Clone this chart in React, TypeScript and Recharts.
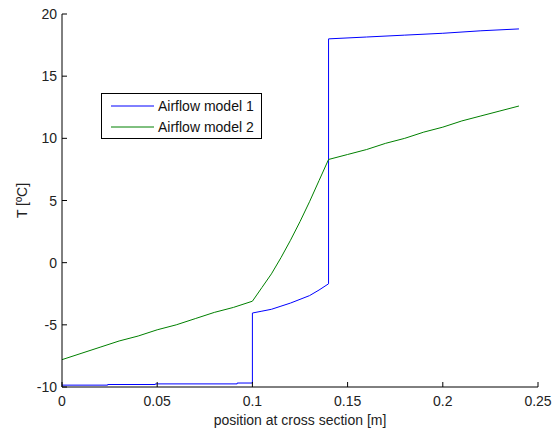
import React from "react";
import { LineChart, Line, XAxis, YAxis } from "recharts";

const model1X = [0, 0.024, 0.024, 0.049, 0.049, 0.092, 0.092, 0.1, 0.1, 0.105, 0.11, 0.115, 0.12, 0.125, 0.13, 0.135, 0.14, 0.14, 0.16, 0.18, 0.2, 0.22, 0.24];
const model1T = [-9.85, -9.85, -9.8, -9.8, -9.75, -9.75, -9.68, -9.68, -4.05, -3.9, -3.75, -3.5, -3.25, -2.95, -2.65, -2.2, -1.7, 18.0, 18.15, 18.3, 18.45, 18.65, 18.8];

const model2X = [0, 0.01, 0.02, 0.03, 0.04, 0.05, 0.06, 0.07, 0.08, 0.09, 0.1, 0.105, 0.11, 0.115, 0.12, 0.125, 0.13, 0.135, 0.14, 0.15, 0.16, 0.17, 0.18, 0.19, 0.2, 0.21, 0.22, 0.23, 0.24];
const model2T = [-7.8, -7.3, -6.8, -6.3, -5.9, -5.4, -5.0, -4.5, -4.0, -3.6, -3.1, -2.0, -0.9, 0.4, 1.8, 3.3, 4.9, 6.6, 8.3, 8.7, 9.1, 9.6, 10.0, 10.5, 10.9, 11.4, 11.8, 12.2, 12.6];

const xTicks = [0, 0.05, 0.1, 0.15, 0.2, 0.25];
const yTicks = [-10, -5, 0, 5, 10, 15, 20];
const xTickLabels = ["0", "0.05", "0.1", "0.15", "0.2", "0.25"];

const seriesNames = ["Airflow model 1", "Airflow model 2"];
const seriesColors = ["#0000ff", "#008000"];

const model1Data = model1X.map((x, i) => ({ x, y: model1T[i] }));
const model2Data = model2X.map((x, i) => ({ x, y: model2T[i] }));

const FONT = "'Liberation Sans', Arial, sans-serif";

const XBottomTick = (props: any) => {
  const { x, y, payload } = props;
  const idx = xTicks.indexOf(payload.value);
  const label = idx >= 0 ? xTickLabels[idx] : String(payload.value);
  return (
    <g>
      <line x1={x} y1={y} x2={x} y2={y - 5} stroke="#000" strokeWidth={1} />
      <text x={x} y={y + 19} textAnchor="middle" fontSize={14} fontFamily={FONT} fill="#222">
        {label}
      </text>
    </g>
  );
};

const XTopTick = (props: any) => {
  const { x, y } = props;
  return <line x1={x} y1={y} x2={x} y2={y + 5} stroke="#000" strokeWidth={1} />;
};

const YLeftTick = (props: any) => {
  const { x, y, payload } = props;
  return (
    <g>
      <line x1={x} y1={y} x2={x + 5} y2={y} stroke="#000" strokeWidth={1} />
      <text x={x - 5} y={y + 5} textAnchor="end" fontSize={14} fontFamily={FONT} fill="#222">
        {String(payload.value)}
      </text>
    </g>
  );
};

const YRightTick = (props: any) => {
  const { x, y } = props;
  return <line x1={x} y1={y} x2={x - 5} y2={y} stroke="#000" strokeWidth={1} />;
};

const LegendBox = () => (
  <div
    style={{
      position: "absolute",
      left: 101,
      top: 93,
      border: "1px solid #000",
      background: "#fff",
      width: 159,
      height: 44,
      boxSizing: "content-box",
      fontFamily: FONT,
      fontSize: 14,
      color: "#111",
    }}
  >
    {seriesNames.map((name, i) => (
      <div
        key={name}
        style={{ position: "absolute", left: 0, top: 3 + i * 21, height: 18, display: "flex", alignItems: "center" }}
      >
        <svg width={56} height={18} style={{ display: "block" }}>
          <line x1={9} y1={9} x2={52} y2={9} stroke={seriesColors[i]} strokeWidth={1} />
        </svg>
        <span style={{ whiteSpace: "nowrap", lineHeight: "18px" }}>{name}</span>
      </div>
    ))}
  </div>
);

const YLabel = (props: any) => {
  const vb = props.viewBox || {};
  const cy = vb.y + vb.height / 2;
  return (
    <text
      x={22}
      y={cy}
      transform={`rotate(-90, 22, ${cy})`}
      textAnchor="middle"
      dominantBaseline="central"
      fontSize={14}
      fontFamily={FONT}
      fill="#222"
    >
      T [ºC]
    </text>
  );
};

const XLabel = (props: any) => {
  const vb = props.viewBox || {};
  const cx = vb.x + vb.width / 2;
  return (
    <text x={cx} y={vb.y + 38} textAnchor="middle" fontSize={14} fontFamily={FONT} fill="#222">
      position at cross section [m]
    </text>
  );
};

export default function App() {
  return (
    <div style={{ width: 555, height: 435, background: "#fff", position: "relative", overflow: "hidden" }}>
      <style>{`html,body{margin:0;padding:0;overflow:hidden;background:#fff}`}</style>
      <LineChart
        width={555}
        height={435}
        margin={{ top: 14, right: 17, left: 0, bottom: 0 }}
      >
        <XAxis
          xAxisId="b"
          type="number"
          dataKey="x"
          domain={[0, 0.25]}
          ticks={xTicks}
          allowDataOverflow
          orientation="bottom"
          height={48}
          tickSize={0}
          tickMargin={0}
          tickLine={false}
          axisLine={{ stroke: "#000" }}
          tick={<XBottomTick />}
          interval={0}
          label={<XLabel />}
        />
        <XAxis
          xAxisId="t"
          type="number"
          dataKey="x"
          domain={[0, 0.25]}
          ticks={xTicks}
          allowDataOverflow
          orientation="top"
          height={0}
          tickSize={0}
          tickMargin={0}
          tickLine={false}
          axisLine={{ stroke: "#000" }}
          tick={<XTopTick />}
          interval={0}
        />
        <YAxis
          yAxisId="l"
          type="number"
          domain={[-10, 20]}
          ticks={yTicks}
          allowDataOverflow
          orientation="left"
          width={62}
          tickSize={0}
          tickMargin={0}
          tickLine={false}
          axisLine={{ stroke: "#000" }}
          tick={<YLeftTick />}
          interval={0}
          label={<YLabel />}
        />
        <YAxis
          yAxisId="r"
          type="number"
          domain={[-10, 20]}
          ticks={yTicks}
          allowDataOverflow
          orientation="right"
          width={0}
          tickSize={0}
          tickMargin={0}
          tickLine={false}
          axisLine={{ stroke: "#000" }}
          tick={<YRightTick />}
          interval={0}
        />
        <Line
          data={model1Data}
          dataKey="y"
          xAxisId="b"
          yAxisId="l"
          type="linear"
          stroke={seriesColors[0]}
          strokeWidth={1}
          dot={false}
          activeDot={false}
          isAnimationActive={false}
          name={seriesNames[0]}
        />
        <Line
          data={model2Data}
          dataKey="y"
          xAxisId="b"
          yAxisId="l"
          type="linear"
          stroke={seriesColors[1]}
          strokeWidth={1}
          dot={false}
          activeDot={false}
          isAnimationActive={false}
          name={seriesNames[1]}
        />
      </LineChart>
      <LegendBox />
    </div>
  );
}
